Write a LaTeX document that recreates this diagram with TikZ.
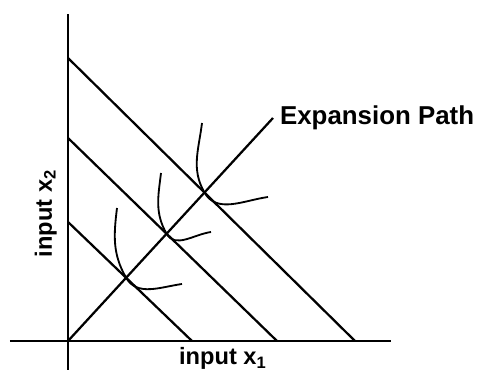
\documentclass[tikz,border=0pt]{standalone}
\usepackage{fontspec}
\setmainfont{Liberation Sans}
\usetikzlibrary{positioning}
\tikzset{
    axis/.style={line width=1.4pt},
    budget/.style={line width=1.6pt},
    isoquant/.style={line width=1.3pt},
    axislabel/.style={inner sep=0pt, font=\fontsize{16.8}{18}\selectfont\bfseries},
    pathlabel/.style={inner sep=0pt, font=\fontsize{18.4}{20}\selectfont\bfseries}
}

\begin{document}
\begin{tikzpicture}
    \useasboundingbox (-1.7,-0.725) rectangle (10.275,8.525);

    % Axes
    \coordinate (O) at (0,0);
    \coordinate (ytop) at (0,8.18);
    \coordinate (ybot) at (0,-0.725);
    \coordinate (xleft) at (-1.45,0);
    \coordinate (xright) at (8.075,0);

    % Budget line intercepts
    \coordinate (A1) at (0,7.075);  \coordinate (B1) at (7.175,0);
    \coordinate (A2) at (0,5.075);  \coordinate (B2) at (5.225,0);
    \coordinate (A3) at (0,2.975);  \coordinate (B3) at (3.1,0);

    % Expansion path end
    \coordinate (E) at (5.125,5.575);

    % Tangency points
    \coordinate (T1) at (intersection of O--E and A1--B1);
    \coordinate (T2) at (intersection of O--E and A2--B2);
    \coordinate (T3) at (intersection of O--E and A3--B3);

    % Isoquant ends
    \coordinate (S1) at (3.35,5.45);   \coordinate (F1) at (5.0,3.6);
    \coordinate (S2) at (2.325,4.2);   \coordinate (F2) at (3.575,2.725);
    \coordinate (S3) at (1.225,3.325); \coordinate (F3) at (2.85,1.425);

    \draw[axis] (ybot) -- (ytop);
    \draw[axis] (xleft) -- (xright);

    % Budget lines
    \draw[budget] (A1) -- (B1);
    \draw[budget] (A2) -- (B2);
    \draw[budget] (A3) -- (B3);

    % Expansion path
    \draw[budget] (O) -- (E);

    % Isoquants
    \draw[isoquant] (S1) to[out=-97, in=120] (T1) to[out=-60, in=188] (F1);
    \draw[isoquant] (S2) to[out=-97, in=120] (T2) to[out=-60, in=188] (F2);
    \draw[isoquant] (S3) to[out=-97, in=120] (T3) to[out=-60, in=188] (F3);

    % Labels
    \node[pathlabel, right=0.17cm of E] (pathtext) {Expansion Path};
    \node[axislabel, anchor=base] (xlabel) at (3.87,-0.59) {input x\textsubscript{1}};
    \node[axislabel, rotate=90, anchor=base] (ylabel) at (-0.4,3.19) {input x\textsubscript{2}};
\end{tikzpicture}
\end{document}
